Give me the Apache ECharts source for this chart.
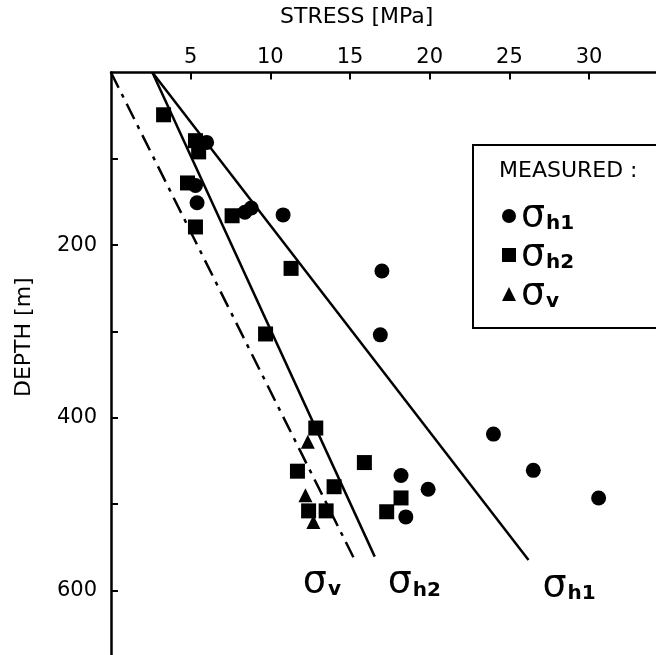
<!DOCTYPE html>
<html>
<head>
<meta charset="utf-8">
<script src="https://cdn.jsdelivr.net/npm/echarts@6/dist/echarts.min.js"></script>
<style>
html,body{margin:0;padding:0;background:#fff;}
#chart{width:656px;height:655px;}
</style>
</head>
<body>
<div id="chart"></div>
<script>
// ---- data (stress [MPa], depth [m]) ----
const sigmaH1Measured = [[6.0,81],[5.3,131],[5.4,151],[8.4,162],[8.8,157],[10.8,165],[17.0,230],[16.9,304],[24.0,419],[26.5,461],[30.6,493],[18.2,467],[19.9,483],[18.5,515]];
const sigmaH2Measured = [[3.3,49],[5.3,79],[5.5,92],[4.8,128],[5.3,179],[7.6,166],[11.3,227],[9.7,303],[12.85,412],[11.7,462],[15.9,452],[14.0,480],[12.4,508],[13.5,508],[17.3,509],[18.2,493]];
const sigmaVMeasured = [[12.35,428],[12.2,490],[12.7,521]];
const sigmaH1Line = [[2.6,0],[26.2,565]];
const sigmaH2Line = [[2.6,0],[16.55,561]];
const sigmaVLine = [[0,0],[15.3,565]];
const stressTicks = [5,10,15,20,25,30];
const depthTicks = [100,200,300,400,500,600];
const depthLabels = [200,400,600];
const seriesNames = ['σh1','σh2','σv'];

const FONT = 'DejaVu Sans';
const chart = echarts.init(document.getElementById('chart'), null, {renderer:'canvas'});

const sigmaRich = {
  s:{fontSize:38, fontFamily:FONT, color:'#000', lineHeight:40},
  sub:{fontSize:20, fontFamily:FONT, color:'#000', fontWeight:'bold', padding:[16,0,0,1], lineHeight:40}
};
function lineData(arr, labelText, dx, dy){
  return arr.map((p,i)=> i===arr.length-1 ? {value:p, label:{show:true, position:'inside', align:'left', verticalAlign:'top', offset:[dx,dy], formatter:labelText, rich:sigmaRich}} : {value:p});
}

const option = {
  animation:false,
  backgroundColor:'#fff',
  grid:{left:111, right:0, top:72.5, bottom:0, containLabel:false},
  xAxis:{type:'value', position:'top', min:0, max:34.2,
    axisLine:{show:true, lineStyle:{color:'#000', width:2.5}},
    axisTick:{show:true, inside:true, length:7, lineStyle:{color:'#000', width:2}, customValues:stressTicks},
    axisLabel:{show:true, customValues:stressTicks, margin:4, color:'#000', fontFamily:FONT, fontSize:21},
    splitLine:{show:false}},
  yAxis:{type:'value', inverse:true, min:0, max:675,
    axisLine:{show:true, lineStyle:{color:'#000', width:2.5}},
    axisTick:{show:true, inside:true, length:7, lineStyle:{color:'#000', width:2}, customValues:depthTicks},
    axisLabel:{show:true, customValues:depthLabels, margin:14, color:'#000', fontFamily:FONT, fontSize:21},
    splitLine:{show:false}},
  legend:{orient:'vertical', left:497, top:192, itemGap:1, itemWidth:14, itemHeight:14,
    data:[{name:seriesNames[0], icon:'circle'},{name:seriesNames[1], icon:'rect'},{name:seriesNames[2], icon:'triangle'}],
    formatter: n => '{s|σ}{sub|' + n.slice(1) + '}',
    textStyle:{rich:sigmaRich}},
  graphic:[
    {type:'text', x:280, y:6, style:{text:'STRESS [MPa]', font:'22px "DejaVu Sans"', fill:'#000'}},
    {type:'text', x:13, y:397, rotation:Math.PI/2, style:{text:'DEPTH [m]', font:'22px "DejaVu Sans"', fill:'#000'}},
    {type:'rect', shape:{x:473, y:145, width:200, height:183}, style:{fill:'none', stroke:'#000', lineWidth:2}},
    {type:'text', x:499, y:160, style:{text:'MEASURED :', font:'22px "DejaVu Sans"', fill:'#000'}}
  ],
  series:[
    {name:seriesNames[0], type:'scatter', data:sigmaH1Measured, symbol:'circle', symbolSize:15, itemStyle:{color:'#000', opacity:1}},
    {name:seriesNames[1], type:'scatter', data:sigmaH2Measured, symbol:'rect', symbolSize:15, itemStyle:{color:'#000', opacity:1}},
    {name:seriesNames[2], type:'scatter', data:sigmaVMeasured, symbol:'triangle', symbolSize:14, itemStyle:{color:'#000', opacity:1}},
    {type:'line', data:lineData(sigmaH1Line,'{s|σ}{sub|h1}',14,6), symbol:'circle', symbolSize:0.1, showSymbol:true, lineStyle:{color:'#000', width:2.5}, itemStyle:{color:'#000'}},
    {type:'line', data:lineData(sigmaH2Line,'{s|σ}{sub|h2}',13,6), symbol:'circle', symbolSize:0.1, showSymbol:true, lineStyle:{color:'#000', width:2.5}, itemStyle:{color:'#000'}},
    {type:'line', data:lineData(sigmaVLine,'{s|σ}{sub|v}',-52,2), symbol:'circle', symbolSize:0.1, showSymbol:true, lineStyle:{color:'#000', width:2.5, type:[17,7,4,7]}, itemStyle:{color:'#000'}}
  ]
};
chart.setOption(option);
</script>
</body>
</html>
